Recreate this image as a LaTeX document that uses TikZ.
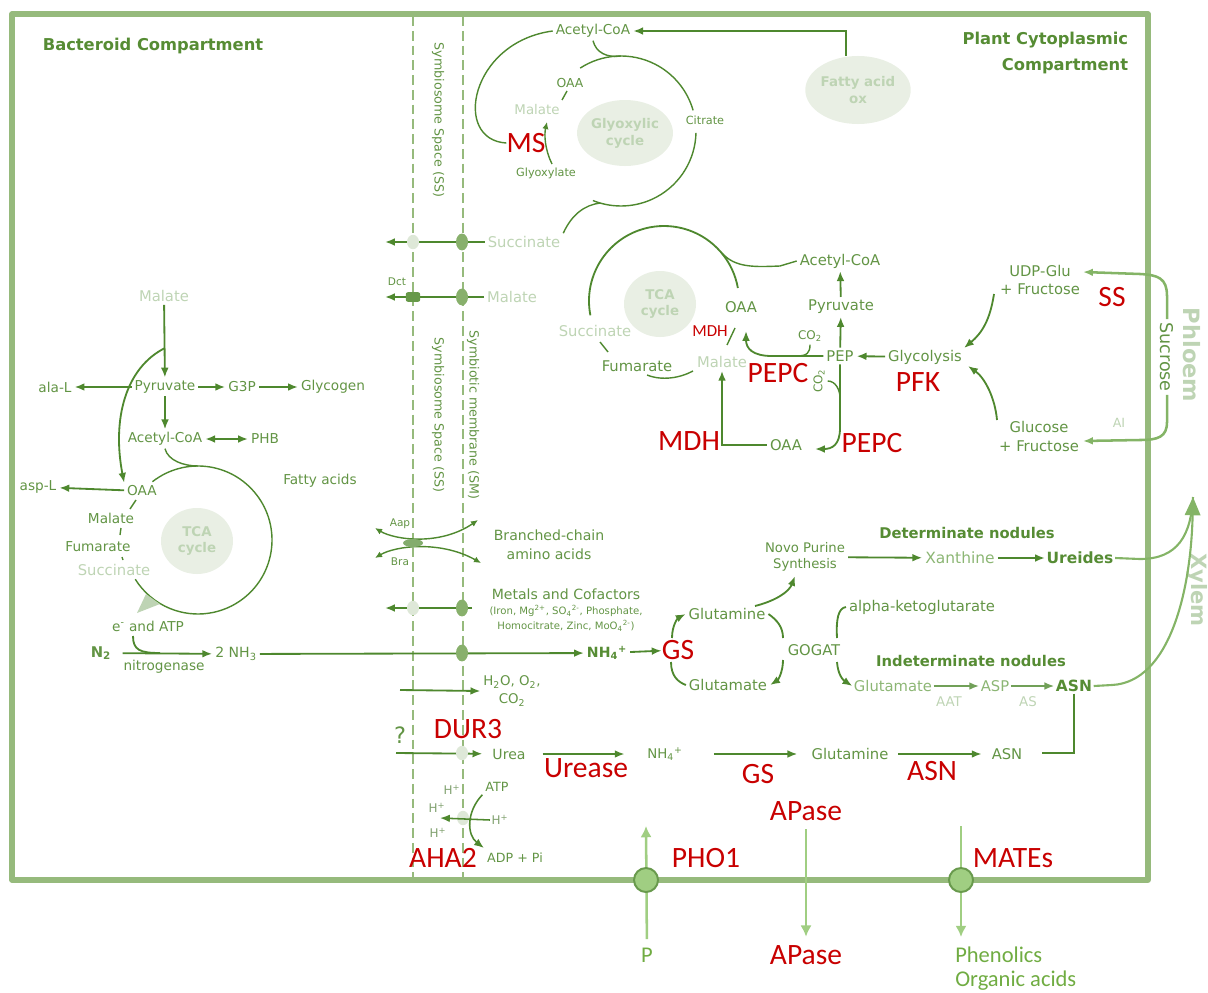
\documentclass[tikz,border=0pt]{standalone}
\usepackage{fontspec}
\setmainfont{DejaVu Sans}
\newfontfamily\enzfont{Carlito}
\usetikzlibrary{
    arrows.meta,
    positioning,
    calc,
    shapes.geometric
}

\definecolor{frameG}{RGB}{150,186,124}
\definecolor{lineG}{RGB}{78,136,46}
\definecolor{textG}{RGB}{98,148,68}
\definecolor{midG}{RGB}{140,182,116}
\definecolor{fadeG}{RGB}{190,212,180}
\definecolor{cycleG}{RGB}{233,239,228}
\definecolor{titleG}{RGB}{86,140,52}
\definecolor{enzR}{RGB}{200,0,0}
\definecolor{soilG}{RGB}{160,206,130}
\definecolor{soilT}{RGB}{112,172,66}
\definecolor{sapG}{RGB}{132,180,102}
\definecolor{protonG}{RGB}{128,160,110}

\newcommand{\fs}[2]{\fontsize{#1}{#2}\selectfont}

\tikzset{
    met/.style={text=textG, font=\fs{9.7}{13.5}, inner sep=2pt, align=center},
    metP/.style={met, font=\fs{10.5}{13.5}},
    faded/.style={text=fadeG, font=\fs{10.5}{13}, inner sep=2pt},
    lbltiny/.style={text=textG, font=\fs{7.5}{9}, inner sep=1pt},
    proton/.style={text=protonG, font=\fs{8.5}{10}, inner sep=1pt},
    boldlbl/.style={text=titleG, font=\bfseries\fs{10.5}{13}, inner sep=1pt},
    enz/.style={text=enzR, font=\enzfont\fs{21}{24}, inner sep=0pt},
    enzsmall/.style={text=enzR, font=\enzfont\fs{12}{14}, inner sep=0pt},
    soiltxt/.style={text=soilT, font=\enzfont\fs{16}{18}, inner sep=0pt},
    cyc/.style={ellipse, fill=cycleG, text=fadeG, font=\bfseries\fs{9.5}{12}, align=center,
        minimum width=1.8cm, minimum height=1.65cm, inner sep=0pt},
    link/.style={lineG, line width=1pt},
    flow/.style={lineG, line width=1.3pt, ->},
    smalltip/.style={>={Latex[length=5pt,width=4.5pt]}},
    memb/.style={frameG, line width=0.9pt, dash pattern=on 7pt off 3.5pt},
    porefade/.style={ellipse, fill=cycleG!75!fadeG, minimum width=0.3cm, minimum height=0.36cm, inner sep=0pt},
    pore/.style={ellipse, fill=frameG!80!lineG, minimum width=0.3cm, minimum height=0.42cm, inner sep=0pt},
    gate/.style={circle, fill=soilG, draw=lineG!85!white, line width=1.4pt, minimum size=0.6cm, inner sep=0pt},
    soil/.style={soilG, line width=1.8pt, ->, >={Latex[length=8pt,width=8pt]}},
    sucrose/.style={sapG, line width=1.8pt, ->},
    xyl/.style={sapG, line width=1.5pt}
}

\begin{document}
\begin{tikzpicture}[x=0.025cm, y=-0.025cm, >={Latex[length=7pt,width=5.5pt]}]
\useasboundingbox (0,0) rectangle (1208,992);

% compartments
\draw[frameG, line width=3.6pt, line join=round] (12,14) rectangle (1148,880);
\draw[memb] (413,16) -- (413,878);
\draw[memb] (463,16) -- (463,878);

\node[text=titleG, font=\bfseries\fs{11.6}{14}] (bactT) at (153,46) {Bacteroid Compartment};
\node[text=titleG, font=\bfseries\fs{11.6}{18.5}, align=right, anchor=north east] (plantT) at (1133,27) {Plant Cytoplasmic\\Compartment};

\node[met, font=\fs{9}{11}, rotate=-90] (ssTop) at (438,120) {Symbiosome Space (SS)};
\node[met, font=\fs{9}{11}, rotate=-90] (ssMid) at (438,415) {Symbiosome Space (SS)};
\node[met, font=\fs{9}{11}, rotate=-90] (smMid) at (473,415) {Symbiotic membrane (SM)};

% glyoxylic cycle
\node[met] (acoaG) at (593,31) {Acetyl-CoA};
\node[cyc, minimum width=2.15cm, minimum height=1.7cm] (fatty) at (858,90) {Fatty acid\\ox};
\node[cyc] (glyox) at (625,133) {Glyoxylic\\cycle};
\node[met, font=\fs{8.8}{10}] (oaaG) at (570,83) {OAA};
\node[faded, font=\fs{9.5}{11}] (malG) at (537,110) {Malate};
\node[enz] (ms) at (526,143) {MS};
\node[met, font=\fs{8}{10}] (glyoxy) at (546,173) {Glyoxylate};
\node[met, font=\fs{8}{10}] (citr) at (705,120) {Citrate};
\node[faded] (succP) at (524,242) {Succinate};

\draw[flow] ($(fatty.north)+(-12,0)$) |- (acoaG.east);
\draw[link] (621,131) ++(237:75) arc[start angle=237, end angle=344, radius=75];
\draw[link] (621,131) ++(1.5:75) arc[start angle=1.5, end angle=112, radius=75];
\draw[link] (acoaG.south) .. controls +(3,12) and +(-14,2) .. (621,56);
\draw[link] (acoaG.west) .. controls (470,42) and (452,140) .. (ms.west);
\draw[link] (567,91) -- (562,100);
\draw[link, smalltip, ->] (552,164) .. controls (545,150) and (544,135) .. (547,122);
\draw[link] (succP.north east) .. controls (572,214) and (585,205) .. (600,203);

% exchange across the membranes
\coordinate (succOut) at (385,242);
\draw[flow] (succP.west) -- (succOut);
\node[porefade] (poreSuccSS) at (413,242) {};
\node[pore] (poreSuccSM) at (462,242) {};

\node[faded] (malP) at (512,297) {Malate};
\coordinate (malOut) at (385,297);
\draw[flow] (malP.west) -- (malOut);
\node[fill=lineG!65!frameG, rounded corners=1.5pt, minimum width=0.36cm, minimum height=0.24cm, inner sep=0pt] (dctPore) at (413,297) {};
\node[pore] (poreMalSM) at (462,297) {};
\node[lbltiny] (dct) at (397,282) {Dct};

% plant TCA cycle
\node[cyc] (tcaP) at (660,304) {TCA\\cycle};
\draw[lineG, line width=1.3pt] (664,301) ++(169:75) arc[start angle=169, end angle=350, radius=75];
\node[metP] (acoaP) at (840,261) {Acetyl-CoA};
\draw[link] (722,253) .. controls (735,268) and (755,267) .. (780,266) -- (acoaP.west);
\node[metP] (oaaP) at (741,307) {OAA};
\node[enzsmall] (mdhS) at (710,331) {MDH};
\node[faded] (malP2) at (722,362) {Malate};
\node[metP] (fumP) at (637,366) {Fumarate};
\node[faded] (succP2) at (595,331) {Succinate};
\draw[link] (600,342) -- (608,352);
\draw[link] (647,375) .. controls (662,381) and (680,378) .. (693,371);
\draw[link] (727,345) -- (735,328);

\node[metP] (pep) at (840,356) {PEP};
\node[metP] (pyrP) at (841,307) {Pyruvate};
\node[met, font=\fs{8.5}{10}] (co2a) at (810,336) {CO\textsubscript{2}};
\node[met, font=\fs{8.5}{10}, rotate=90] (co2b) at (819,381) {CO\textsubscript{2}};
\node[metP] (glyc) at (925,357) {Glycolysis};
\node[metP] (oaaP2) at (786,445) {OAA};
\node[enz] (pepc1) at (778,373) {PEPC};
\node[enz] (pepc2) at (872,443) {PEPC};
\node[enz] (pfk) at (918,382) {PFK};
\node[enz] (mdh) at (689,441) {MDH};

\draw[flow] (pep.west) -- (772,356) .. controls (752,356) and (746,348) .. (746,331);
\draw[link] (co2a.south) .. controls +(0,8) and +(10,0) .. (797,356);
\draw[flow] (pep) -- (pyrP);
\draw[flow] (pyrP) -- (acoaP);
\draw[flow] (glyc) -- (pep);
\draw[flow] (pep.south) -- (840,428) .. controls (840,445) and (832,449) .. (815,449);
\draw[link] (co2b.south) .. controls +(8,0) and +(0,-8) .. (840,398);
\draw[flow, line width=1.7pt] (oaaP2.west) -| (malP2.south);

% sucrose from the phloem
\node[metP] (udp) at (1040,280) {UDP-Glu\\+ Fructose};
\node[metP] (gluc) at (1039,436) {Glucose\\+ Fructose};
\node[enz] (ss) at (1112,297) {SS};
\node[faded, font=\fs{9}{11}] (ai) at (1119,423) {AI};
\draw[flow] (994,294) .. controls (990,320) and (982,333) .. (964,348);
\draw[flow] (997,420) .. controls (995,398) and (985,378) .. (968,366);

\node[text=textG, font=\fs{12.5}{14}, rotate=-90, inner sep=2pt] (sucr) at (1167,357) {Sucrose};
\coordinate (udpIn) at (1083,272);
\coordinate (glucIn) at (1083,441);
\draw[sucrose] (sucr.west) -- (1167,296) .. controls (1167,278) and (1158,275) .. (1140,274) -- (udpIn);
\draw[sucrose] (sucr.east) -- (1167,422) .. controls (1167,437) and (1158,440) .. (1140,440) -- (glucIn);
\node[text=fadeG, font=\bfseries\fs{16}{18}, rotate=-90] (phloem) at (1192,355) {Phloem};
\node[text=fadeG, font=\bfseries\fs{15}{17}, rotate=-90] (xylem) at (1197,590) {Xylem};

% bacteroid metabolism
\node[faded] (malB) at (164,296) {Malate};
\node[met] (pyrB) at (165,387) {Pyruvate};
\node[met] (alaL) at (55,387) {ala-L};
\node[met] (g3p) at (242,387) {G3P};
\node[met] (glycogen) at (333,387) {Glycogen};
\node[met] (acoaB) at (165,439) {Acetyl-CoA};
\node[met] (phb) at (265,439) {PHB};
\node[met] (oaaB) at (142,491) {OAA};
\node[met] (aspL) at (38,487) {asp-L};
\node[met] (malB2) at (111,518) {Malate};
\node[met] (fumB) at (98,547) {Fumarate};
\node[faded] (succB) at (114,570) {Succinate};
\node[cyc] (tcaB) at (197,541) {TCA\\cycle};
\node[met] (fattyB) at (320,481) {Fatty acids};

\draw[flow] (malB) -- (pyrB);
\draw[flow] (pyrB) -- (alaL);
\draw[flow] (pyrB) -- (g3p);
\draw[flow] (g3p) -- (glycogen);
\draw[flow] (pyrB) -- (acoaB);
\draw[flow, <->] (acoaB) -- (phb);
\draw[flow] (oaaB) -- (aspL);
\draw[flow] (165,348) .. controls (125,368) and (112,420) .. (oaaB.north west);
\draw[link] (198,540) ++(232:74) arc[start angle=232, end angle=508, radius=74];
\draw[link] (acoaB.south) .. controls +(3,12) and +(-14,0) .. (198,466);
\draw[link] (136,500) -- (130,509);
\draw[link] (121,528) -- (120,535);
\draw[link] (122,557) -- (123,560);
\fill[fadeG] (137,613) -- (146,594) -- (160,604) -- cycle;

% nitrogen fixation
\node[met] (eatp) at (148,626) {e\textsuperscript{-} and ATP};
\node[text=textG, font=\bfseries\fs{10.5}{12}, inner sep=2pt] (n2) at (101,653) {N\textsubscript{2}};
\node[met] (nitro) at (164,667) {nitrogenase};
\node[met, font=\fs{10}{12}] (nh3) at (236,654) {2 NH\textsubscript{3}};
\node[text=titleG, font=\bfseries\fs{10}{12}, inner sep=2pt] (nh4) at (607,653) {NH\textsubscript{4}\textsuperscript{+}};
\node[enz] (gs1) at (678,650) {GS};

\draw[flow, shorten <=6pt] (n2) -- (nh3);
\draw[lineG, line width=1.3pt] (133,636) .. controls (133,650) and (140,653) .. (160,653);
\draw[flow] (nh3) -- (nh4);
\node[pore] (poreNH) at (462,653) {};
\draw[flow] (nh4) -- (gs1);

% assimilation
\node[metP] (gln) at (727,614) {Glutamine};
\node[metP] (glu) at (728,685) {Glutamate};
\node[metP] (gogat) at (814,650) {GOGAT};
\draw[flow] (672,638) .. controls (672,625) and (678,618) .. (gln.west);
\draw[lineG, line width=1.3pt] (671,662) .. controls (671,676) and (678,682) .. (glu.west);
\draw[lineG, line width=1.3pt] (gln.east) .. controls (777,620) and (783,627) .. (783,638);
\draw[flow] (783,660) .. controls (783,672) and (778,680) .. (glu.east);
\draw[flow] (755,606) .. controls (775,601) and (789,592) .. (795,576);

\node[met, font=\fs{9.4}{11.5}] (novo) at (805,557) {Novo Purine\\Synthesis};
\node[met, font=\fs{11}{13}, text=midG] (xan) at (960,558) {Xanthine};
\node[boldlbl, font=\bfseries\fs{11}{13}] (ure) at (1080,558) {Ureides};
\node[boldlbl] (detN) at (967,533) {Determinate nodules};
\draw[flow] (novo) -- (xan);
\draw[flow] (xan) -- (ure);

\node[met, font=\fs{10.5}{12}] (akg) at (922,607) {alpha-ketoglutarate};
\node[boldlbl] (indN) at (971,661) {Indeterminate nodules};
\node[text=midG, font=\fs{10.5}{12}, inner sep=1pt] (gluI) at (893,686) {Glutamate};
\node[text=midG, font=\fs{10.5}{12}, inner sep=1pt] (asp) at (995,686) {ASP};
\node[boldlbl, font=\bfseries\fs{11}{13}] (asnI) at (1074,686) {ASN};
\node[text=fadeG, font=\fs{9.5}{11}] (aat) at (949,702) {AAT};
\node[text=fadeG, font=\fs{9.5}{11}] (as) at (1028,702) {AS};
\draw[lineG, line width=1.3pt] (837,638) .. controls (836,620) and (838,608) .. (akg.west);
\draw[flow] (837,662) .. controls (838,675) and (843,680) .. (gluI.west);
\draw[flow, draw=lineG!80!white] (gluI) -- (asp);
\draw[flow, draw=lineG!80!white] (asp) -- (asnI);
\coordinate (asnEnd) at (1042,753);
\draw[lineG, line width=1.5pt] (asnI.south) |- (asnEnd);

% to the xylem
\coordinate (xylTip) at (1193,497);
\draw[xyl] (ure.east) -- (1140,559) .. controls (1178,559) and (1191,535) .. (xylTip);
\draw[xyl, -{Triangle[length=13pt,width=11pt]}] (asnI.east) -- (1112,685) .. controls (1170,682) and (1191,590) .. (xylTip);

% transport across the symbiosome
\node[met, font=\fs{10}{13.5}] (bca) at (549,545) {Branched-chain\\amino acids};
\node[lbltiny] (aap) at (400,524) {Aap};
\node[lbltiny] (bra) at (400,562) {Bra};
\draw[link, smalltip, <->] (375,528) .. controls (395,540) and (440,546) .. (478,520);
\draw[link, smalltip, <->] (375,558) .. controls (395,546) and (440,540) .. (481,563);
\node[ellipse, fill=lineG!70!white, minimum width=0.5cm, minimum height=0.2cm, inner sep=0pt] (bcaPore) at (413,543) {};

\node[met, font=\fs{10}{12}] (metals) at (566,594) {Metals and Cofactors};
\node[met, font=\fs{7.2}{10.5}] (cofac) at (566,618) {(Iron, Mg\textsuperscript{2+}, SO\textsubscript{4}\textsuperscript{2-}, Phosphate,\\Homocitrate, Zinc, MoO\textsubscript{4}\textsuperscript{2-})};
\coordinate (metIn) at (472,608);
\coordinate (metOut) at (385,608);
\draw[flow] (metIn) -- (metOut);
\node[porefade] (poreMetSS) at (413,608) {};
\node[pore] (poreMetSM) at (462,608) {};

\node[met, font=\fs{9.5}{12.5}] (h2o) at (512,691) {H\textsubscript{2}O, O\textsubscript{2},\\CO\textsubscript{2}};
\coordinate (h2oIn) at (400,690);
\draw[flow] (h2oIn) -- (h2o.west);

% urea route
\node[text=textG, font=\fs{16}{18}] (qm) at (400,735) {?};
\node[enz] (dur3) at (468,729) {DUR3};
\coordinate (ureaIn) at (396,753);
\node[met, font=\fs{10}{12}] (urea) at (509,754) {Urea};
\node[enz] (urease) at (586,768) {Urease};
\node[met, font=\fs{9.5}{12}] (nh4b) at (665,754) {NH\textsubscript{4}\textsuperscript{+}};
\node[enz] (gs2) at (758,774) {GS};
\node[metP] (glnB) at (850,754) {Glutamine};
\node[enz] (asnE) at (932,771) {ASN};
\node[metP] (asnB) at (1007,754) {ASN};
\draw[flow, shorten >=5pt] (ureaIn) -- (urea);
\node[porefade] (poreU) at (462,753) {};
\draw[flow, shorten <=10pt, shorten >=14pt] (urea) -- (nh4b);
\draw[flow, shorten <=20pt, shorten >=8pt] (nh4b) -- (glnB);
\draw[flow, shorten <=5pt, shorten >=5pt] (glnB) -- (asnB);

% proton pump
\node[porefade] (poreH) at (463,818) {};
\node[proton] (h1) at (452,790) {H\textsuperscript{+}};
\node[proton] (h2) at (437,808) {H\textsuperscript{+}};
\node[proton] (h3) at (438,833) {H\textsuperscript{+}};
\node[proton] (h4) at (500,820) {H\textsuperscript{+}};
\node[met, font=\fs{9}{11}] (atp) at (497,787) {ATP};
\node[met, font=\fs{9}{11}] (adp) at (515,858) {ADP + Pi};
\node[enz] (aha2) at (443,858) {AHA2};
\coordinate (hOut) at (440,818);
\draw[flow, line width=1.1pt] (h4.west) -- (hOut);
\draw[flow, line width=1.1pt] (atp.south west) .. controls (466,812) and (467,835) .. (484,848);

% root surface
\node[enz] (pho1) at (706,858) {PHO1};
\node[enz] (apT) at (806,811) {APase};
\node[enz] (apB) at (806,955) {APase};
\node[enz] (mates) at (1013,858) {MATEs};
\node[soiltxt] (pLab) at (647,955) {P};
\node[soiltxt, anchor=west] (phen) at (955,955) {Phenolics};
\node[soiltxt, anchor=west] (orgA) at (955,981) {Organic acids};
\coordinate (pTop) at (646,826);
\coordinate (mTop) at (961,826);
\coordinate (mBot) at (961,937);
\draw[soil, shorten <=6pt] (pLab) -- (pTop);
\draw[soil, shorten <=6pt, shorten >=6pt] (apT) -- (apB);
\draw[soil] (mTop) -- (mBot);
\node[gate] (gateP) at (646,880) {};
\node[gate] (gateM) at (961,880) {};

\end{tikzpicture}
\end{document}
